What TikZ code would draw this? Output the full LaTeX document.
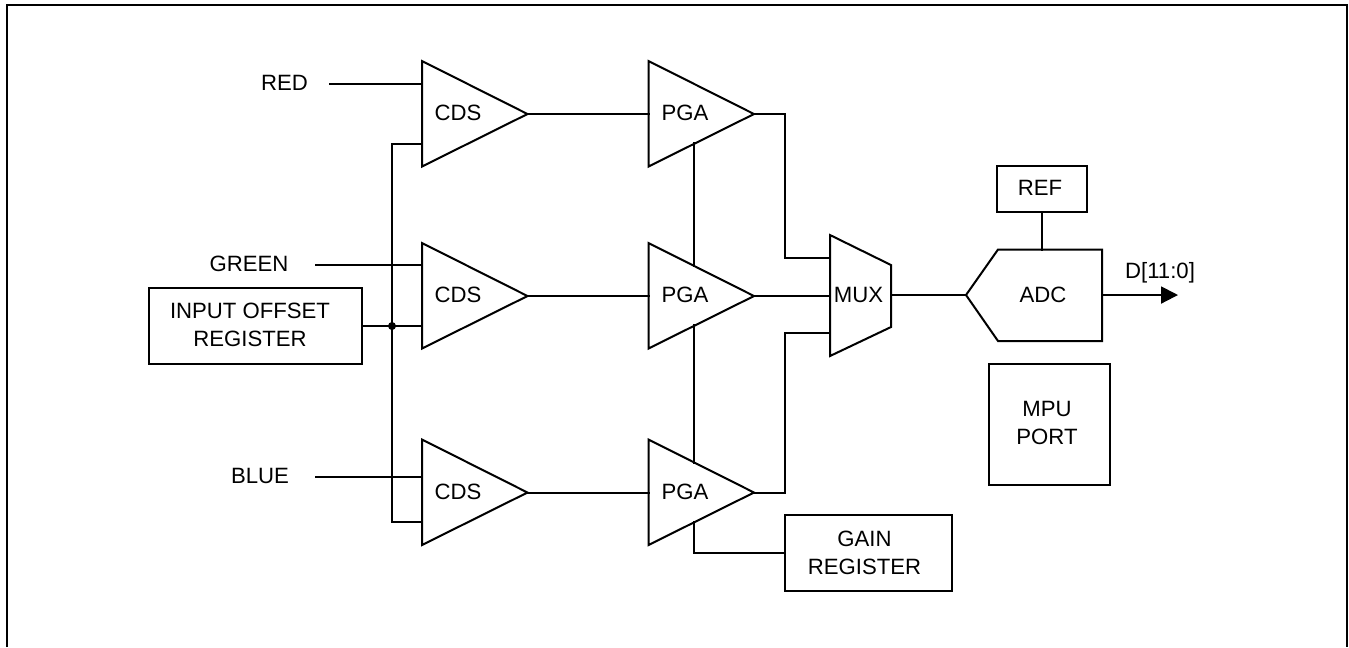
\documentclass[tikz,border=0pt]{standalone}
\usepackage{fontspec}
\setmainfont{Liberation Sans}
\usetikzlibrary{arrows.meta}
\newcommand{\diagfont}{\fontsize{6.3}{7.97}\selectfont}
\tikzset{
  wire/.style={line width=0.57pt,line join=miter,line cap=rect},
  shapeline/.style={line width=0.57pt,line join=miter},
  boxnode/.style={draw,line width=0.57pt,inner sep=0pt,outer sep=0pt},
  lab/.style={inner sep=0pt,outer sep=0pt,align=center,font=\diagfont},
  flow/.style={line width=0.57pt,-{Triangle[length=0.17cm,width=0.17cm]}}
}
% \ampl{name}{left x}{top y}{text}{text x}{text y}: triangle of 105.5 x 105.5 px
\newcommand{\ampl}[6]{%
  \coordinate (#1-tl) at (#2,#3);
  \coordinate (#1-bl) at (#2,#3+105.5);
  \coordinate (#1-out) at (#2+105.5,#3+53);
  \coordinate (#1-top) at (#2+45.5,#3+23);
  \coordinate (#1-bot) at (#2+45.5,#3+82);
  \draw[shapeline] (#1-tl) -- (#1-out) -- (#1-bl) -- cycle;
  \node[lab] (#1) at (#5,#6) {#4};
}
\begin{document}
\begin{tikzpicture}[x=0.01cm,y=-0.01cm]
\useasboundingbox[fill=white] (0,0) rectangle (1349,647);
% outer frame, open at the bottom
\coordinate (fbl) at (7,647); \coordinate (ftl) at (7,5);
\coordinate (ftr) at (1347,5); \coordinate (fbr) at (1347,647);
\draw[shapeline] (fbl) -- (ftl) -- (ftr) -- (fbr);
% amplifiers
\ampl{cdsa}{422}{61}{CDS}{458}{113}
\ampl{cdsb}{422}{243}{CDS}{458}{294.5}
\ampl{cdsc}{422}{439.5}{CDS}{458}{492}
\ampl{pgaa}{648.5}{61}{PGA}{685}{113}
\ampl{pgab}{648.5}{243}{PGA}{685}{294.5}
\ampl{pgac}{648.5}{439.5}{PGA}{685}{492}
% boxes
\node[boxnode,minimum width=2.13cm,minimum height=0.76cm] (offset) at (255.5,326) {};
\node[lab] (offsetlab) at (250,324.5) {INPUT OFFSET\\REGISTER};
\node[boxnode,minimum width=1.67cm,minimum height=0.76cm] (gain) at (868.5,553) {};
\node[lab] (gainlab) at (864.5,553) {GAIN\\REGISTER};
\node[boxnode,minimum width=0.90cm,minimum height=0.46cm] (ref) at (1042,189) {};
\node[lab] (reflab) at (1040,188) {REF};
\node[boxnode,minimum width=1.20cm,minimum height=1.21cm] (mpu) at (1049.5,424.5) {};
\node[lab] (mpulab) at (1047,423) {MPU\\PORT};
% MUX
\coordinate (mtl) at (830,235); \coordinate (mtr) at (891,265);
\coordinate (mbr) at (891,327); \coordinate (mbl) at (830,356);
\draw[shapeline] (mtl) -- (mtr) -- (mbr) -- (mbl) -- cycle;
\node[lab] (mux) at (858.5,294.5) {MUX};
% ADC
\coordinate (atip) at (966,295); \coordinate (atl) at (998,249.5);
\coordinate (atr) at (1102,249.5); \coordinate (abr) at (1102,341);
\coordinate (abl) at (998,341);
\draw[shapeline] (atip) -- (atl) -- (atr) -- (abr) -- (abl) -- cycle;
\node[lab] (adc) at (1043,294.5) {ADC};
% input labels
\node[lab] (red) at (284.5,82.5) {RED};
\node[lab] (green) at (249,263.5) {GREEN};
\node[lab] (blue) at (260,475.5) {BLUE};
\node[lab] (dout) at (1160,273) {D[11:0]};
% free ends and pins
\coordinate (redend) at (330,84);
\coordinate (greenend) at (316,265);
\coordinate (blueend) at (316,477);
\coordinate (cdsapin) at (422,84);
\coordinate (cdsbpin) at (422,265);
\coordinate (cdscpin) at (422,477);
\coordinate (cdsaoff) at (422,144);
\coordinate (cdsboff) at (422,326);
\coordinate (cdscoff) at (422,522);
\coordinate (bus) at (392,326);
\coordinate (busa) at (392,144);
\coordinate (busc) at (392,522);
\coordinate (muxa) at (830,257.5);
\coordinate (muxc) at (830,333);
\coordinate (ada) at (785,114);
\coordinate (adb) at (785,257.5);
\coordinate (adc-a) at (785,333);
\coordinate (gbend) at (694,553);
\coordinate (refpin) at (1042,249.5);
\coordinate (adcout) at (1102,295);
\coordinate (arrowend) at (1178,295);
% connectors
\draw[wire] (redend) -- (cdsapin);
\draw[wire] (greenend) -- (cdsbpin);
\draw[wire] (blueend) -- (cdscpin);
\draw[wire] (offset.east |- bus) -- (cdsboff);
\draw[wire] (cdsaoff) -- (busa) -- (busc) -- (cdscoff);
\fill (bus) circle (0.04cm);
\draw[wire] (cdsa-out) -- (pgaa-tl |- cdsa-out);
\draw[wire] (cdsb-out) -- (pgab-tl |- cdsb-out);
\draw[wire] (cdsc-out) -- (pgac-tl |- cdsc-out);
\draw[wire] (pgaa-bot) -- (pgab-top);
\draw[wire] (pgab-bot) -- (pgac-top);
\draw[wire] (pgac-bot) -- (gbend) -- (gain.west |- gbend);
\draw[wire] (pgaa-out) -- (ada |- pgaa-out) -- (adb) -- (muxa);
\draw[wire] (pgab-out) -- (muxa |- pgab-out);
\draw[wire] (pgac-out) -- (adc-a |- pgac-out) -- (adc-a) -- (muxc);
\draw[wire] (mtr |- atip) -- (atip);
\draw[wire] (ref.south) -- (refpin);
\draw[flow] (adcout) -- (arrowend);
\end{tikzpicture}
\end{document}
